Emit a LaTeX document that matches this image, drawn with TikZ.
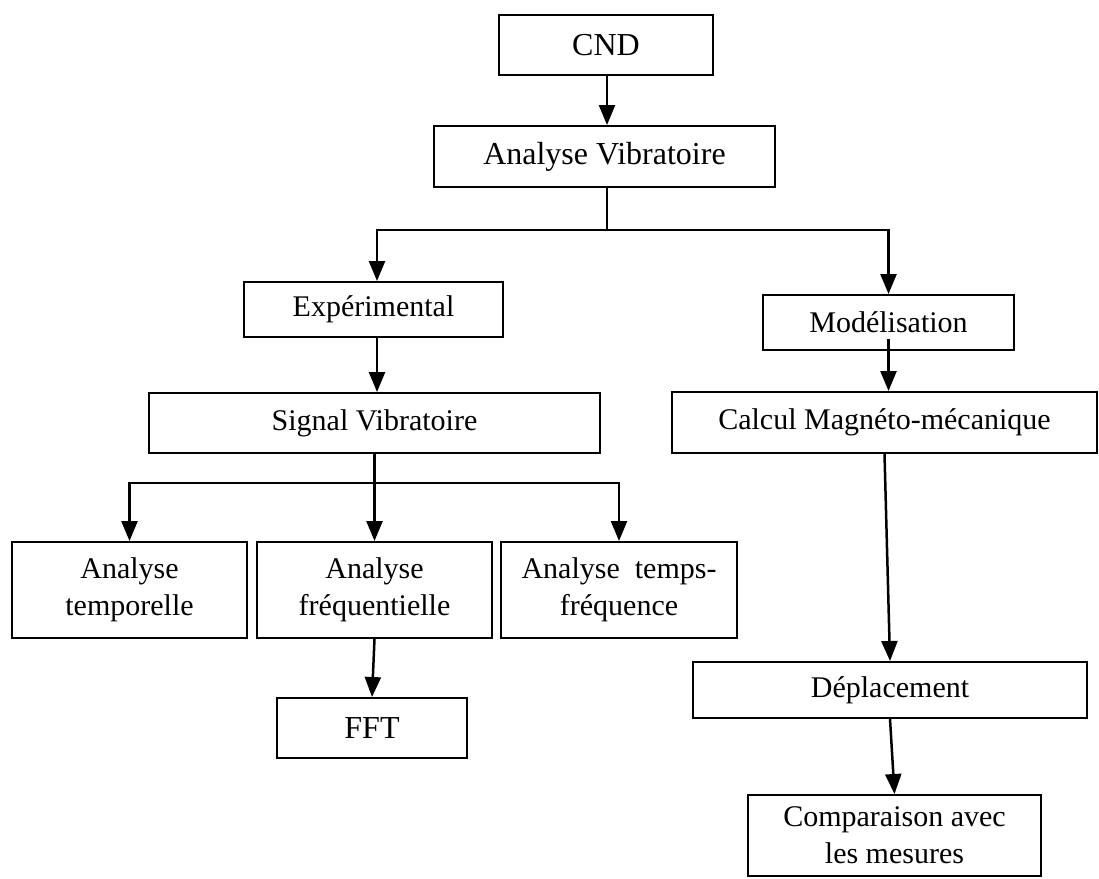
\documentclass[tikz,border=0pt]{standalone}
\usepackage{fontspec}
\setmainfont{Liberation Serif}
\usetikzlibrary{arrows.meta}
\begin{document}
\begin{tikzpicture}[x=1pt,y=-1pt,
  box/.style={draw, line width=2pt, align=center, inner sep=0pt, font=\fontsize{30}{37}\selectfont},
  bigbox/.style={box, font=\fontsize{32}{38}\selectfont},
  arr/.style={line width=2.5pt, -{Triangle[length=20pt,width=16pt]}},
  link/.style={line width=2.5pt}]
\useasboundingbox (0,0) rectangle (1099,878);
\node[bigbox, minimum width=214pt, minimum height=60pt] (cnd) at (606,45) {CND};
\node[bigbox, minimum width=341pt, minimum height=61pt] (av) at (604.5,156.5) {Analyse Vibratoire};
\node[box, minimum width=259pt, minimum height=55pt] (exp) at (373.5,309.5) {Expérimental};
\node[box, minimum width=251pt, minimum height=55pt] (mod) at (888.5,322.5) {Modélisation};
\node[box, minimum width=451pt, minimum height=60pt] (sig) at (374.5,423) {Signal Vibratoire};
\node[box, minimum width=425pt, minimum height=61pt] (calc) at (884.5,422.5) {Calcul Magnéto-mécanique};
\node[box, minimum width=235pt, minimum height=96pt] (atemp) at (129.5,590) {Analyse\\temporelle};
\node[box, minimum width=235pt, minimum height=96pt] (afreq) at (374.5,590) {Analyse\\fréquentielle};
\node[box, minimum width=236pt, minimum height=96pt] (atf) at (619,590) {Analyse\ \ temps-\\fréquence};
\node[bigbox, minimum width=190pt, minimum height=60pt] (fft) at (372,728) {FFT};
\node[box, minimum width=394pt, minimum height=56pt] (dep) at (890,690) {Déplacement};
\node[box, minimum width=293pt, minimum height=81pt] (comp) at (894.5,835.5) {Comparaison avec\\les mesures};
\coordinate (splitA) at (607,230);
\coordinate (splitB) at (374.5,483);
\draw[arr] (cnd.south -| splitA) -- (av.north -| splitA);
\draw[link] (av.south -| splitA) -- (splitA);
\draw[arr] (splitA) -| ([xshift=3.5pt]exp.north);
\draw[arr] (splitA) -| (mod.north);
\draw[arr] ([xshift=3.5pt]exp.south) -- ([xshift=3.5pt]exp.south |- sig.north);
\draw[arr] ([yshift=12pt]mod.south) -- (mod.south |- calc.north);
\draw[arr] (sig.south) -- (afreq.north);
\draw[arr] (splitB) -| (atemp.north);
\draw[arr] (splitB) -| (atf.north);
\draw[arr] (afreq.south) -- (fft.north);
\draw[arr] (calc.south) -- (dep.north);
\draw[arr] (dep.south) -- (comp.north);
\end{tikzpicture}
\end{document}
